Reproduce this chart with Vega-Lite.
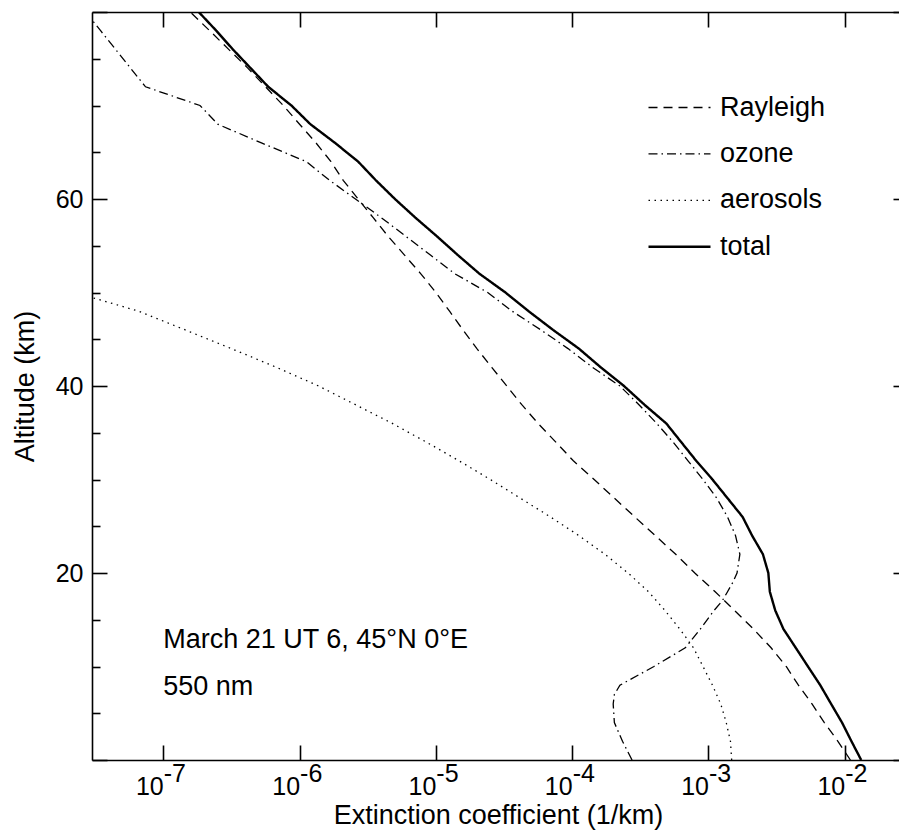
{
  "$schema": "https://vega.github.io/schema/vega-lite/v6.json",
  "width": 807,
  "height": 748,
  "autosize": {"type": "none"},
  "padding": {"left": 92, "top": 12, "right": 0, "bottom": 70},
  "config": {
    "font": "Liberation Sans",
    "view": {"stroke": null},
    "axis": {
      "grid": false,
      "domainColor": "black",
      "tickColor": "black",
      "labelColor": "black",
      "titleColor": "black",
      "domainWidth": 1.6,
      "tickWidth": 1.6,
      "labelFontSize": 25,
      "titleFontSize": 27,
      "titleFontWeight": "normal"
    }
  },
  "datasets": {
    "profiles": [
      {"series": "Rayleigh", "alt": 0, "ext": 1.10e-2},
      {"series": "Rayleigh", "alt": 2, "ext": 8.91e-3},
      {"series": "Rayleigh", "alt": 4, "ext": 7.08e-3},
      {"series": "Rayleigh", "alt": 6, "ext": 5.75e-3},
      {"series": "Rayleigh", "alt": 8, "ext": 4.57e-3},
      {"series": "Rayleigh", "alt": 10, "ext": 3.72e-3},
      {"series": "Rayleigh", "alt": 12, "ext": 2.88e-3},
      {"series": "Rayleigh", "alt": 14, "ext": 2.14e-3},
      {"series": "Rayleigh", "alt": 16, "ext": 1.55e-3},
      {"series": "Rayleigh", "alt": 18, "ext": 1.12e-3},
      {"series": "Rayleigh", "alt": 20, "ext": 7.94e-4},
      {"series": "Rayleigh", "alt": 22, "ext": 5.75e-4},
      {"series": "Rayleigh", "alt": 24, "ext": 4.07e-4},
      {"series": "Rayleigh", "alt": 26, "ext": 2.88e-4},
      {"series": "Rayleigh", "alt": 28, "ext": 2.04e-4},
      {"series": "Rayleigh", "alt": 30, "ext": 1.45e-4},
      {"series": "Rayleigh", "alt": 32, "ext": 1.02e-4},
      {"series": "Rayleigh", "alt": 34, "ext": 7.59e-5},
      {"series": "Rayleigh", "alt": 36, "ext": 5.62e-5},
      {"series": "Rayleigh", "alt": 38, "ext": 4.27e-5},
      {"series": "Rayleigh", "alt": 40, "ext": 3.31e-5},
      {"series": "Rayleigh", "alt": 42, "ext": 2.57e-5},
      {"series": "Rayleigh", "alt": 44, "ext": 2.00e-5},
      {"series": "Rayleigh", "alt": 46, "ext": 1.58e-5},
      {"series": "Rayleigh", "alt": 48, "ext": 1.26e-5},
      {"series": "Rayleigh", "alt": 50, "ext": 1.00e-5},
      {"series": "Rayleigh", "alt": 52, "ext": 7.76e-6},
      {"series": "Rayleigh", "alt": 54, "ext": 5.89e-6},
      {"series": "Rayleigh", "alt": 56, "ext": 4.47e-6},
      {"series": "Rayleigh", "alt": 58, "ext": 3.47e-6},
      {"series": "Rayleigh", "alt": 60, "ext": 2.69e-6},
      {"series": "Rayleigh", "alt": 62, "ext": 2.09e-6},
      {"series": "Rayleigh", "alt": 64, "ext": 1.70e-6},
      {"series": "Rayleigh", "alt": 66, "ext": 1.32e-6},
      {"series": "Rayleigh", "alt": 68, "ext": 1.00e-6},
      {"series": "Rayleigh", "alt": 70, "ext": 7.59e-7},
      {"series": "Rayleigh", "alt": 72, "ext": 5.62e-7},
      {"series": "Rayleigh", "alt": 74, "ext": 4.17e-7},
      {"series": "Rayleigh", "alt": 76, "ext": 3.02e-7},
      {"series": "Rayleigh", "alt": 78, "ext": 2.19e-7},
      {"series": "Rayleigh", "alt": 80, "ext": 1.58e-7},
      {"series": "ozone", "alt": 0, "ext": 2.75e-4},
      {"series": "ozone", "alt": 2, "ext": 2.34e-4},
      {"series": "ozone", "alt": 4, "ext": 2.04e-4},
      {"series": "ozone", "alt": 6, "ext": 2.00e-4},
      {"series": "ozone", "alt": 7, "ext": 2.04e-4},
      {"series": "ozone", "alt": 8, "ext": 2.24e-4},
      {"series": "ozone", "alt": 10, "ext": 3.98e-4},
      {"series": "ozone", "alt": 12, "ext": 6.76e-4},
      {"series": "ozone", "alt": 14, "ext": 8.71e-4},
      {"series": "ozone", "alt": 16, "ext": 1.10e-3},
      {"series": "ozone", "alt": 17, "ext": 1.26e-3},
      {"series": "ozone", "alt": 18, "ext": 1.38e-3},
      {"series": "ozone", "alt": 19, "ext": 1.51e-3},
      {"series": "ozone", "alt": 20, "ext": 1.62e-3},
      {"series": "ozone", "alt": 22, "ext": 1.70e-3},
      {"series": "ozone", "alt": 24, "ext": 1.58e-3},
      {"series": "ozone", "alt": 26, "ext": 1.38e-3},
      {"series": "ozone", "alt": 28, "ext": 1.15e-3},
      {"series": "ozone", "alt": 30, "ext": 9.12e-4},
      {"series": "ozone", "alt": 32, "ext": 7.08e-4},
      {"series": "ozone", "alt": 34, "ext": 5.50e-4},
      {"series": "ozone", "alt": 36, "ext": 4.17e-4},
      {"series": "ozone", "alt": 38, "ext": 3.09e-4},
      {"series": "ozone", "alt": 40, "ext": 2.24e-4},
      {"series": "ozone", "alt": 42, "ext": 1.41e-4},
      {"series": "ozone", "alt": 44, "ext": 9.33e-5},
      {"series": "ozone", "alt": 46, "ext": 5.89e-5},
      {"series": "ozone", "alt": 48, "ext": 3.63e-5},
      {"series": "ozone", "alt": 50, "ext": 2.40e-5},
      {"series": "ozone", "alt": 52, "ext": 1.38e-5},
      {"series": "ozone", "alt": 54, "ext": 9.12e-6},
      {"series": "ozone", "alt": 56, "ext": 6.03e-6},
      {"series": "ozone", "alt": 58, "ext": 3.98e-6},
      {"series": "ozone", "alt": 60, "ext": 2.57e-6},
      {"series": "ozone", "alt": 62, "ext": 1.66e-6},
      {"series": "ozone", "alt": 64, "ext": 1.12e-6},
      {"series": "ozone", "alt": 66, "ext": 5.25e-7},
      {"series": "ozone", "alt": 68, "ext": 2.51e-7},
      {"series": "ozone", "alt": 70, "ext": 1.86e-7},
      {"series": "ozone", "alt": 72, "ext": 7.41e-8},
      {"series": "ozone", "alt": 74, "ext": 5.75e-8},
      {"series": "ozone", "alt": 76, "ext": 4.47e-8},
      {"series": "ozone", "alt": 78, "ext": 3.47e-8},
      {"series": "ozone", "alt": 80, "ext": 2.69e-8},
      {"series": "aerosols", "alt": 0, "ext": 1.48e-3},
      {"series": "aerosols", "alt": 2, "ext": 1.45e-3},
      {"series": "aerosols", "alt": 4, "ext": 1.35e-3},
      {"series": "aerosols", "alt": 6, "ext": 1.23e-3},
      {"series": "aerosols", "alt": 8, "ext": 1.07e-3},
      {"series": "aerosols", "alt": 10, "ext": 9.12e-4},
      {"series": "aerosols", "alt": 12, "ext": 7.76e-4},
      {"series": "aerosols", "alt": 14, "ext": 6.17e-4},
      {"series": "aerosols", "alt": 16, "ext": 4.79e-4},
      {"series": "aerosols", "alt": 18, "ext": 3.63e-4},
      {"series": "aerosols", "alt": 20, "ext": 2.57e-4},
      {"series": "aerosols", "alt": 22, "ext": 1.74e-4},
      {"series": "aerosols", "alt": 24, "ext": 1.12e-4},
      {"series": "aerosols", "alt": 26, "ext": 6.92e-5},
      {"series": "aerosols", "alt": 28, "ext": 4.17e-5},
      {"series": "aerosols", "alt": 30, "ext": 2.51e-5},
      {"series": "aerosols", "alt": 32, "ext": 1.48e-5},
      {"series": "aerosols", "alt": 34, "ext": 8.51e-6},
      {"series": "aerosols", "alt": 36, "ext": 4.79e-6},
      {"series": "aerosols", "alt": 38, "ext": 2.57e-6},
      {"series": "aerosols", "alt": 40, "ext": 1.38e-6},
      {"series": "aerosols", "alt": 42, "ext": 6.76e-7},
      {"series": "aerosols", "alt": 44, "ext": 3.16e-7},
      {"series": "aerosols", "alt": 46, "ext": 1.45e-7},
      {"series": "aerosols", "alt": 48, "ext": 6.61e-8},
      {"series": "aerosols", "alt": 50, "ext": 2.24e-8},
      {"series": "total", "alt": 0, "ext": 1.32e-2},
      {"series": "total", "alt": 2, "ext": 1.12e-2},
      {"series": "total", "alt": 4, "ext": 9.55e-3},
      {"series": "total", "alt": 6, "ext": 7.94e-3},
      {"series": "total", "alt": 8, "ext": 6.61e-3},
      {"series": "total", "alt": 10, "ext": 5.37e-3},
      {"series": "total", "alt": 12, "ext": 4.37e-3},
      {"series": "total", "alt": 14, "ext": 3.55e-3},
      {"series": "total", "alt": 16, "ext": 3.09e-3},
      {"series": "total", "alt": 18, "ext": 2.82e-3},
      {"series": "total", "alt": 20, "ext": 2.75e-3},
      {"series": "total", "alt": 22, "ext": 2.51e-3},
      {"series": "total", "alt": 24, "ext": 2.09e-3},
      {"series": "total", "alt": 26, "ext": 1.78e-3},
      {"series": "total", "alt": 28, "ext": 1.38e-3},
      {"series": "total", "alt": 30, "ext": 1.07e-3},
      {"series": "total", "alt": 32, "ext": 8.13e-4},
      {"series": "total", "alt": 34, "ext": 6.31e-4},
      {"series": "total", "alt": 36, "ext": 4.90e-4},
      {"series": "total", "alt": 38, "ext": 3.39e-4},
      {"series": "total", "alt": 40, "ext": 2.40e-4},
      {"series": "total", "alt": 42, "ext": 1.62e-4},
      {"series": "total", "alt": 44, "ext": 1.12e-4},
      {"series": "total", "alt": 46, "ext": 7.24e-5},
      {"series": "total", "alt": 48, "ext": 4.79e-5},
      {"series": "total", "alt": 50, "ext": 3.24e-5},
      {"series": "total", "alt": 52, "ext": 2.09e-5},
      {"series": "total", "alt": 54, "ext": 1.45e-5},
      {"series": "total", "alt": 56, "ext": 1.02e-5},
      {"series": "total", "alt": 58, "ext": 7.08e-6},
      {"series": "total", "alt": 60, "ext": 5.01e-6},
      {"series": "total", "alt": 62, "ext": 3.63e-6},
      {"series": "total", "alt": 64, "ext": 2.69e-6},
      {"series": "total", "alt": 66, "ext": 1.82e-6},
      {"series": "total", "alt": 68, "ext": 1.20e-6},
      {"series": "total", "alt": 70, "ext": 8.71e-7},
      {"series": "total", "alt": 72, "ext": 5.89e-7},
      {"series": "total", "alt": 74, "ext": 4.37e-7},
      {"series": "total", "alt": 76, "ext": 3.24e-7},
      {"series": "total", "alt": 78, "ext": 2.45e-7},
      {"series": "total", "alt": 80, "ext": 1.82e-7}
    ],
    "notes": [
      {"line": 1, "ext": 1e-7, "alt": 12, "text": "March 21 UT 6, 45°N 0°E"},
      {"line": 2, "ext": 1e-7, "alt": 7, "text": "550 nm"}
    ]
  },
  "resolve": {
    "scale": {"x": "shared", "y": "shared"},
    "axis": {"x": "independent", "y": "independent"}
  },
  "layer": [
    {
      "data": {"name": "profiles"},
      "mark": {"type": "line", "color": "black", "clip": true},
      "encoding": {
        "x": {
          "field": "ext",
          "type": "quantitative",
          "scale": {"type": "log", "domain": [3e-8, 0.025], "nice": false},
          "axis": {
            "orient": "bottom",
            "values": [1e-7, 1e-6, 1e-5, 1e-4, 1e-3, 1e-2],
            "labelExpr": "'10'",
            "tickSize": -15,
            "labelAlign": "right",
            "labelBaseline": "alphabetic",
            "labelPadding": 49,
            "labelFlush": false,
            "labelOverlap": false,
            "title": "Extinction coefficient (1/km)",
            "titleX": 406,
            "titleY": 63,
            "titleAlign": "center",
            "titleBaseline": "alphabetic"
          }
        },
        "y": {
          "field": "alt",
          "type": "quantitative",
          "scale": {"domain": [0, 80], "nice": false},
          "axis": {
            "orient": "left",
            "values": [0, 5, 10, 15, 20, 25, 30, 35, 40, 45, 50, 55, 60, 65, 70, 75, 80],
            "tickSize": {"condition": {"test": "datum.value % 20 === 0", "value": -15}, "value": -8},
            "labelExpr": "datum.value % 20 === 0 && datum.value > 0 && datum.value < 80 ? datum.label : ''",
            "labelPadding": 24,
            "labelBaseline": "middle",
            "labelFlush": false,
            "labelOverlap": false,
            "title": "Altitude (km)",
            "titleX": -59,
            "titleY": 374,
            "titleAngle": 270,
            "titleAlign": "center",
            "titleBaseline": "alphabetic"
          }
        },
        "order": {"field": "alt", "type": "quantitative"},
        "strokeDash": {
          "field": "series",
          "type": "nominal",
          "scale": {
            "domain": ["Rayleigh", "ozone", "aerosols", "total"],
            "range": [[9, 6], [9, 4, 1.5, 4], [1.5, 4.5], [1, 0]]
          },
          "legend": {
            "orient": "none",
            "legendX": 574,
            "legendY": 82,
            "title": null,
            "padding": 0,
            "symbolType": "stroke",
            "symbolSize": 3844,
            "symbolStrokeColor": "black",
            "symbolStrokeWidth": 1.3,
            "labelFontSize": 27,
            "labelColor": "black",
            "labelOffset": 27,
            "rowPadding": 18.4,
            "encode": {
              "symbols": {"update": {"strokeWidth": {"signal": "datum.value === 'total' ? 2.4 : 1.3"}}}
            }
          }
        },
        "strokeWidth": {"condition": {"test": "datum.series === 'total'", "value": 2.4}, "value": 1.3}
      }
    },
    {
      "data": {"name": "notes"},
      "transform": [{"filter": "datum.line === 1"}],
      "mark": {"type": "text", "align": "left", "baseline": "alphabetic", "fontSize": 27, "color": "black"},
      "encoding": {
        "x": {
          "field": "ext",
          "type": "quantitative",
          "axis": {
            "orient": "bottom",
            "values": [1e-7, 1e-6, 1e-5, 1e-4, 1e-3, 1e-2],
            "labelExpr": "'-' + (-round(log(datum.value) / LN10))",
            "domain": false,
            "ticks": false,
            "labelAlign": "left",
            "labelBaseline": "alphabetic",
            "labelPadding": 21,
            "labelDx": 1,
            "labelFlush": false,
            "labelOverlap": false,
            "title": null
          }
        },
        "y": {
          "field": "alt",
          "type": "quantitative",
          "axis": {
            "orient": "right",
            "offset": 9,
            "values": [0, 5, 10, 15, 20, 25, 30, 35, 40, 45, 50, 55, 60, 65, 70, 75, 80],
            "tickSize": {"condition": {"test": "datum.value % 20 === 0", "value": -15}, "value": -8},
            "labels": false,
            "title": null
          }
        },
        "text": {"field": "text"}
      }
    },
    {
      "data": {"name": "notes"},
      "transform": [{"filter": "datum.line === 2"}],
      "mark": {"type": "text", "align": "left", "baseline": "alphabetic", "fontSize": 27, "color": "black"},
      "encoding": {
        "x": {
          "field": "ext",
          "type": "quantitative",
          "axis": {
            "orient": "top",
            "values": [1e-7, 1e-6, 1e-5, 1e-4, 1e-3, 1e-2],
            "tickSize": -15,
            "labels": false,
            "title": null
          }
        },
        "y": {"field": "alt", "type": "quantitative", "axis": null},
        "text": {"field": "text"}
      }
    }
  ]
}
